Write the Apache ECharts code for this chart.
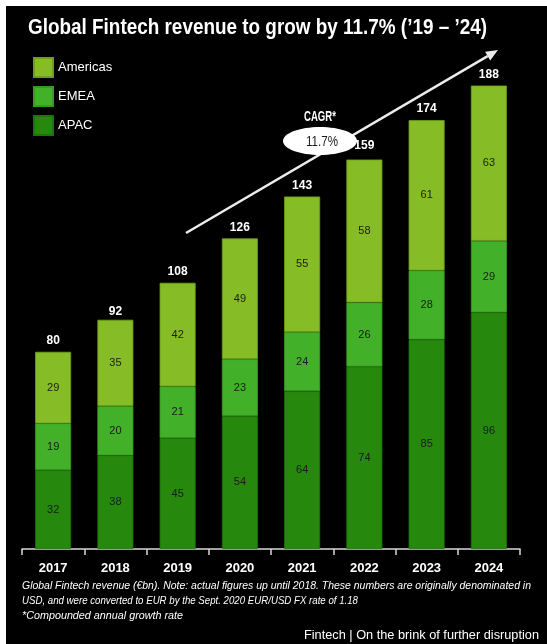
<!DOCTYPE html>
<html>
<head>
<meta charset="utf-8">
<script src="https://cdn.jsdelivr.net/npm/echarts@6/dist/echarts.min.js"></script>
<style>
  html, body { margin: 0; padding: 0; background: #fff; }
  #chart { width: 547px; height: 644px; }
</style>
</head>
<body>
<div id="chart"></div>
<script>
// Global Fintech revenue by region (EUR bn)
const years = ['2017', '2018', '2019', '2020', '2021', '2022', '2023', '2024'];
const apac = [32, 38, 45, 54, 64, 74, 85, 96];
const emea = [19, 20, 21, 23, 24, 26, 28, 29];
const americas = [29, 35, 42, 49, 55, 58, 61, 63];
const totals = [80, 92, 108, 126, 143, 159, 174, 188];
const cagrText = '11.7%';

const FONT = '"Liberation Sans", Arial, sans-serif';
const colors = { americas: '#86bc25', emea: '#43b02a', apac: '#26890d' };

// horizontal squeeze so a line of text spans the wanted width (condensed look)
const measureCtx = document.createElement('canvas').getContext('2d');
function squeeze(text, font, width) {
  measureCtx.font = font;
  return width / measureCtx.measureText(text).width;
}
function condensedText(text, font, x, y, width, extra, z) {
  const s = squeeze(text, font, width);
  return {
    type: 'text', z: z || 10, x: x, y: y, scaleX: s,
    style: Object.assign({ text: text, fill: '#fff', font: font, textVerticalAlign: 'middle' }, extra || {})
  };
}

// growth arrow geometry
const arrowStart = [186, 233];
const arrowTip = [498, 50];
const dx = arrowTip[0] - arrowStart[0], dy = arrowTip[1] - arrowStart[1];
const len = Math.hypot(dx, dy);
const ux = dx / len, uy = dy / len;
const headLen = 12, headHalf = 5;
const base = [arrowTip[0] - ux * headLen, arrowTip[1] - uy * headLen];
const head = [
  arrowTip,
  [base[0] - uy * headHalf, base[1] + ux * headHalf],
  [base[0] + uy * headHalf, base[1] - ux * headHalf]
];

function segLabel() {
  return {
    show: true, position: 'inside', color: '#1b1b1b',
    fontFamily: FONT, fontSize: 11
  };
}

const titleText = 'Global Fintech revenue to grow by 11.7% (\u201919 \u2013 \u201924)';
const note1 = 'Global Fintech revenue (\u20acbn). Note: actual figures up until 2018. These numbers are originally denominated in';
const note2 = 'USD, and were converted to EUR by the Sept. 2020 EUR/USD FX rate of 1.18';
const note3 = '*Compounded annual growth rate';
const footer = 'Fintech | On the brink of further disruption';

const chart = echarts.init(document.getElementById('chart'), null, { renderer: 'canvas' });
chart.setOption({
  backgroundColor: '#ffffff',
  animation: false,
  grid: { left: 22, right: 27, top: 56, bottom: 95 },
  legend: {
    data: ['Americas', 'EMEA', 'APAC'],
    orient: 'vertical', left: 28, top: 52,
    itemWidth: 19, itemHeight: 19, itemGap: 8,
    icon: 'rect',
    textStyle: { color: '#fff', fontFamily: FONT, fontSize: 13 }
  },
  xAxis: {
    type: 'category', data: years,
    axisLine: { lineStyle: { color: '#d9d9d9', width: 1.5 } },
    axisTick: { show: true, length: 6, lineStyle: { color: '#d9d9d9', width: 1.5 } },
    axisLabel: { color: '#fff', fontFamily: FONT, fontWeight: 'bold', fontSize: 13, margin: 13 }
  },
  yAxis: { type: 'value', min: 0, max: 200, show: false, splitLine: { show: false } },
  series: [
    {
      name: 'APAC', type: 'bar', stack: 'rev', data: apac, barWidth: 36,
      itemStyle: { color: colors.apac, borderColor: '#1f7409', borderWidth: 0.8 },
      label: segLabel()
    },
    {
      name: 'EMEA', type: 'bar', stack: 'rev', data: emea, barWidth: 36,
      itemStyle: { color: colors.emea, borderColor: '#379a22', borderWidth: 0.8 },
      label: segLabel()
    },
    {
      name: 'Americas', type: 'bar', stack: 'rev', data: americas, barWidth: 36,
      itemStyle: { color: colors.americas, borderColor: '#6f9e1c', borderWidth: 0.8 },
      label: segLabel()
    },
    {
      name: 'Total', type: 'bar', data: totals, barWidth: 36, barGap: '-100%',
      itemStyle: { color: 'rgba(0,0,0,0)' }, z: 1, silent: true,
      label: {
        show: true, position: 'top', distance: 5, color: '#fff',
        fontFamily: FONT, fontWeight: 'bold', fontSize: 12
      }
    }
  ],
  graphic: [
    { type: 'rect', z: -10, shape: { x: 6, y: 6, width: 541, height: 638 }, style: { fill: '#000' } },
    condensedText(titleText, 'bold 22px ' + FONT, 28, 28, 459),
    {
      type: 'line', z: 10,
      shape: { x1: arrowStart[0], y1: arrowStart[1], x2: base[0], y2: base[1] },
      style: { stroke: '#ececec', lineWidth: 2.5 }
    },
    {
      type: 'polygon', z: 10,
      shape: { points: head },
      style: { fill: '#ececec' }
    },
    {
      type: 'ellipse', z: 11,
      shape: { cx: 320, cy: 141, rx: 37, ry: 14 },
      style: { fill: '#fff' }
    },
    condensedText(cagrText, '14px ' + FONT, 322, 142, 32,
      { fill: '#1b1b1b', textAlign: 'center' }, 12),
    condensedText('CAGR*', 'bold 14px ' + FONT, 320, 117, 32, { textAlign: 'center' }, 12),
    condensedText(note1, 'italic 11.5px ' + FONT, 22, 586, 509),
    condensedText(note2, 'italic 11.5px ' + FONT, 22, 601, 336),
    condensedText(note3, 'italic 11.5px ' + FONT, 22, 616, 161),
    condensedText(footer, '13px ' + FONT, 539, 635, 235, { textAlign: 'right' })
  ]
});
</script>
</body>
</html>
